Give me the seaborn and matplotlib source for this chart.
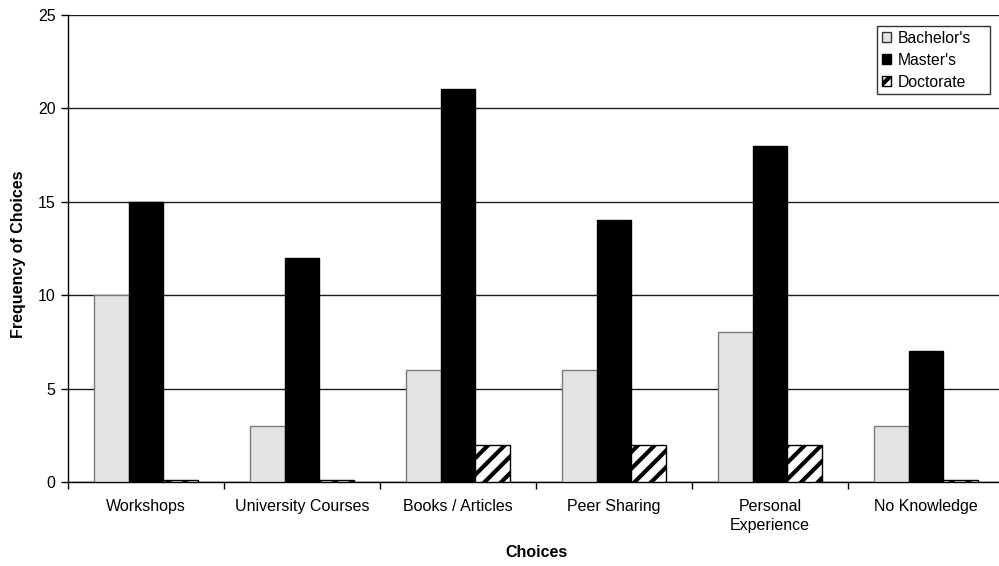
import matplotlib
matplotlib.use("Agg")
import matplotlib.pyplot as plt
import seaborn as sns
import pandas as pd
import numpy as np
from matplotlib.patches import Patch
from matplotlib.ticker import FixedLocator

# Survey results: where respondents learned about the topic, by degree level
choices = ["Workshops", "University Courses", "Books / Articles",
           "Peer Sharing", "Personal\nExperience", "No Knowledge"]
degrees = ["Bachelor's", "Master's", "Doctorate"]
bachelors = [10, 3, 6, 6, 8, 3]
masters = [15, 12, 21, 14, 18, 7]
doctorate = [0.1, 0.1, 2, 2, 2, 0.1]

y_ticks = [0, 5, 10, 15, 20, 25]

df = pd.DataFrame({
    "Choices": choices * 3,
    "Degree": [degrees[0]] * 6 + [degrees[1]] * 6 + [degrees[2]] * 6,
    "Frequency": bachelors + masters + doctorate,
})

sns.set_theme(style="white")
plt.rcParams["font.family"] = ["Liberation Sans", "DejaVu Sans"]
plt.rcParams["hatch.linewidth"] = 3.0
plt.rcParams["hatch.color"] = "black"
plt.rcParams["text.color"] = "black"
plt.rcParams["axes.labelcolor"] = "black"

fill = {"Bachelor's": "#e3e3e3", "Master's": "#000000", "Doctorate": "#ffffff"}
edge = {"Bachelor's": "#7a7a7a", "Master's": "#000000", "Doctorate": "#000000"}
hatch = {"Bachelor's": "", "Master's": "", "Doctorate": "//"}

fig = plt.figure(figsize=(9.99, 5.66), dpi=100)
ax = fig.add_axes([68 / 999, (566 - 482) / 566, 936 / 999, (482 - 14.7) / 566])

sns.barplot(data=df, x="Choices", y="Frequency", hue="Degree",
            hue_order=degrees, order=choices, palette=fill,
            width=0.667, gap=0, saturation=1, legend=False, ax=ax,
            zorder=3)

for container, deg in zip(ax.containers, degrees):
    for bar in container:
        bar.set_edgecolor(edge[deg])
        bar.set_linewidth(1.0)
        bar.set_hatch(hatch[deg])

ax.set_ylim(0, 25)
ax.set_xlim(-0.5, 5.5)
ax.set_yticks(y_ticks)
ax.yaxis.grid(True, color="#1a1a1a", linewidth=1.0, zorder=0)
ax.set_axisbelow(True)

for side in ["top", "right"]:
    ax.spines[side].set_visible(False)
ax.spines["left"].set_color("black")
ax.spines["bottom"].set_color("black")
ax.spines["left"].set_linewidth(1.0)
ax.spines["bottom"].set_linewidth(1.0)

ax.tick_params(axis="y", which="major", left=True, length=5, width=1,
               color="black", labelsize=11.5, labelcolor="black", pad=4)
ax.tick_params(axis="x", which="major", bottom=False, length=0,
               labelsize=11.5, labelcolor="black", pad=12.5)
for lbl in ax.get_xticklabels():
    lbl.set_linespacing(1.3)
ax.xaxis.set_minor_locator(FixedLocator(np.arange(-0.5, 6.0, 1.0)))
ax.tick_params(axis="x", which="minor", bottom=True, length=5, width=1,
               color="black")

ax.set_xlabel("Choices", fontsize=11.5, fontweight="bold", color="black")
ax.xaxis.set_label_coords(0.5, (482 - 545) / 467.3)
ax.set_ylabel("Frequency of Choices", fontsize=11.5, fontweight="bold",
              color="black")
ax.yaxis.set_label_coords((26 - 68) / 936, (482 - 254) / 467.3)

handles = [Patch(facecolor=fill[d], edgecolor="#333333" if d == "Bachelor's" else "black",
                 hatch=hatch[d], label=d) for d in degrees]
leg = ax.legend(handles=handles, loc="upper right", mode="expand",
                bbox_to_anchor=((877 - 68) / 936, 0.776, 113 / 936, 0.2),
                fontsize=11.3, frameon=True, fancybox=False,
                edgecolor="black", handlelength=0.6, handleheight=0.6,
                handletextpad=0.4, borderpad=0.3, labelspacing=0.45,
                borderaxespad=0)
leg.get_frame().set_linewidth(1.0)

fig.savefig("out.png", dpi=100)
